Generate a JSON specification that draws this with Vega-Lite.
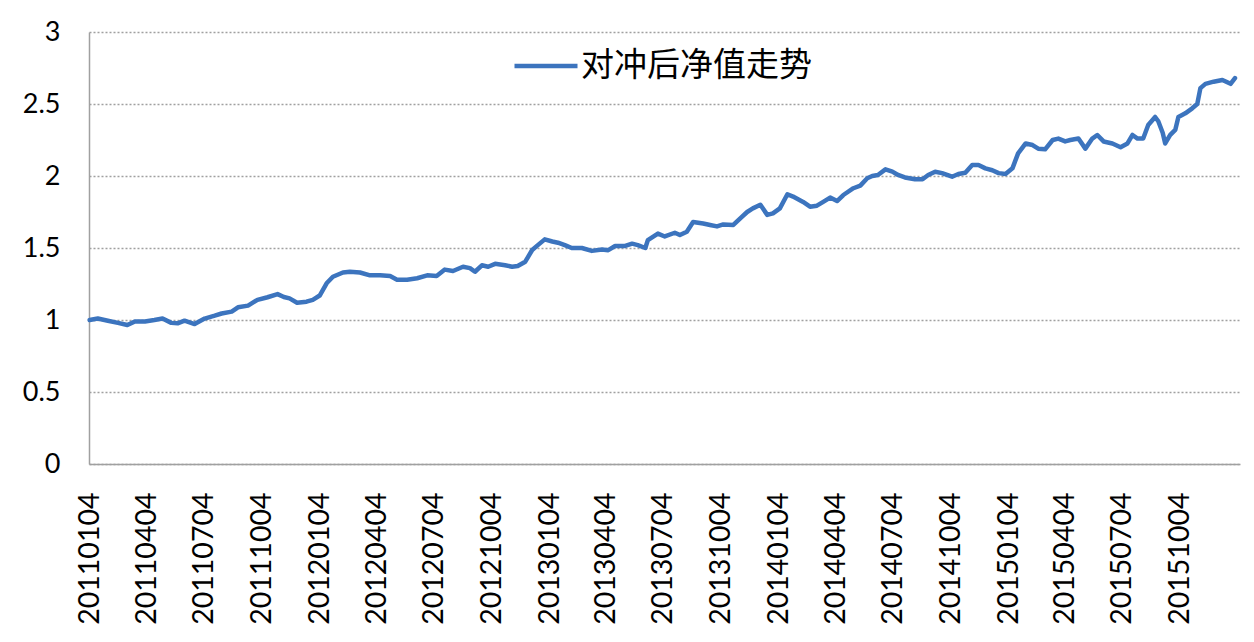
{
  "$schema": "https://vega.github.io/schema/vega-lite/v6.json",
  "autosize": "none",
  "width": 1151,
  "height": 432,
  "padding": {"left": 89, "top": 32, "right": 14, "bottom": 178},
  "background": "white",
  "config": {"view": {"stroke": null}},
  "data": {
    "values": [
      {"d": "2011-01-04", "v": 1.0}, {"d": "2011-01-17", "v": 1.01}, {"d": "2011-02-02", "v": 0.995}, {"d": "2011-02-18", "v": 0.98},
      {"d": "2011-03-05", "v": 0.965}, {"d": "2011-03-17", "v": 0.99}, {"d": "2011-04-02", "v": 0.99}, {"d": "2011-04-17", "v": 1.0},
      {"d": "2011-04-30", "v": 1.01}, {"d": "2011-05-14", "v": 0.98}, {"d": "2011-05-24", "v": 0.977}, {"d": "2011-06-04", "v": 0.995},
      {"d": "2011-06-20", "v": 0.972}, {"d": "2011-07-06", "v": 1.01}, {"d": "2011-07-22", "v": 1.03}, {"d": "2011-08-02", "v": 1.045},
      {"d": "2011-08-18", "v": 1.058}, {"d": "2011-08-28", "v": 1.088}, {"d": "2011-09-13", "v": 1.1}, {"d": "2011-09-28", "v": 1.14},
      {"d": "2011-10-14", "v": 1.158}, {"d": "2011-10-30", "v": 1.18}, {"d": "2011-11-09", "v": 1.16}, {"d": "2011-11-18", "v": 1.15},
      {"d": "2011-11-30", "v": 1.12}, {"d": "2011-12-15", "v": 1.127}, {"d": "2011-12-25", "v": 1.14}, {"d": "2012-01-05", "v": 1.17},
      {"d": "2012-01-16", "v": 1.255}, {"d": "2012-01-26", "v": 1.3}, {"d": "2012-02-11", "v": 1.33}, {"d": "2012-02-22", "v": 1.335},
      {"d": "2012-03-09", "v": 1.33}, {"d": "2012-03-25", "v": 1.31}, {"d": "2012-04-10", "v": 1.31}, {"d": "2012-04-26", "v": 1.305},
      {"d": "2012-05-07", "v": 1.28}, {"d": "2012-05-23", "v": 1.28}, {"d": "2012-06-08", "v": 1.29}, {"d": "2012-06-24", "v": 1.31},
      {"d": "2012-07-09", "v": 1.305}, {"d": "2012-07-22", "v": 1.35}, {"d": "2012-08-04", "v": 1.34}, {"d": "2012-08-20", "v": 1.37},
      {"d": "2012-08-31", "v": 1.36}, {"d": "2012-09-08", "v": 1.335}, {"d": "2012-09-19", "v": 1.38}, {"d": "2012-09-29", "v": 1.37},
      {"d": "2012-10-10", "v": 1.39}, {"d": "2012-10-26", "v": 1.38}, {"d": "2012-11-06", "v": 1.37}, {"d": "2012-11-15", "v": 1.375},
      {"d": "2012-11-27", "v": 1.405}, {"d": "2012-12-08", "v": 1.486}, {"d": "2012-12-17", "v": 1.52}, {"d": "2012-12-28", "v": 1.56},
      {"d": "2013-01-09", "v": 1.545}, {"d": "2013-01-18", "v": 1.537}, {"d": "2013-01-29", "v": 1.52}, {"d": "2013-02-09", "v": 1.5},
      {"d": "2013-02-25", "v": 1.5}, {"d": "2013-03-13", "v": 1.48}, {"d": "2013-03-29", "v": 1.49}, {"d": "2013-04-08", "v": 1.485},
      {"d": "2013-04-19", "v": 1.514}, {"d": "2013-05-05", "v": 1.514}, {"d": "2013-05-16", "v": 1.53}, {"d": "2013-05-25", "v": 1.52},
      {"d": "2013-06-06", "v": 1.5}, {"d": "2013-06-10", "v": 1.555}, {"d": "2013-06-26", "v": 1.6}, {"d": "2013-07-07", "v": 1.58},
      {"d": "2013-07-23", "v": 1.606}, {"d": "2013-07-31", "v": 1.59}, {"d": "2013-08-11", "v": 1.613}, {"d": "2013-08-21", "v": 1.68},
      {"d": "2013-09-06", "v": 1.67}, {"d": "2013-09-17", "v": 1.66}, {"d": "2013-09-28", "v": 1.65}, {"d": "2013-10-08", "v": 1.664},
      {"d": "2013-10-24", "v": 1.66}, {"d": "2013-11-04", "v": 1.706}, {"d": "2013-11-15", "v": 1.75}, {"d": "2013-11-24", "v": 1.775},
      {"d": "2013-12-06", "v": 1.8}, {"d": "2013-12-17", "v": 1.73}, {"d": "2013-12-26", "v": 1.74}, {"d": "2014-01-06", "v": 1.775},
      {"d": "2014-01-18", "v": 1.873}, {"d": "2014-01-27", "v": 1.857}, {"d": "2014-02-12", "v": 1.82}, {"d": "2014-02-23", "v": 1.787},
      {"d": "2014-03-06", "v": 1.794}, {"d": "2014-03-16", "v": 1.82}, {"d": "2014-03-27", "v": 1.85}, {"d": "2014-04-07", "v": 1.826},
      {"d": "2014-04-17", "v": 1.868}, {"d": "2014-05-03", "v": 1.915}, {"d": "2014-05-14", "v": 1.933}, {"d": "2014-05-25", "v": 1.984},
      {"d": "2014-06-02", "v": 2.0}, {"d": "2014-06-11", "v": 2.007}, {"d": "2014-06-23", "v": 2.046}, {"d": "2014-07-04", "v": 2.03},
      {"d": "2014-07-13", "v": 2.007}, {"d": "2014-07-24", "v": 1.99}, {"d": "2014-08-09", "v": 1.977}, {"d": "2014-08-21", "v": 1.977},
      {"d": "2014-08-30", "v": 2.007}, {"d": "2014-09-10", "v": 2.03}, {"d": "2014-09-21", "v": 2.02}, {"d": "2014-10-07", "v": 1.995},
      {"d": "2014-10-17", "v": 2.014}, {"d": "2014-10-28", "v": 2.023}, {"d": "2014-11-08", "v": 2.076}, {"d": "2014-11-18", "v": 2.076},
      {"d": "2014-11-29", "v": 2.053}, {"d": "2014-12-10", "v": 2.04}, {"d": "2014-12-20", "v": 2.02}, {"d": "2014-12-31", "v": 2.014},
      {"d": "2015-01-11", "v": 2.053}, {"d": "2015-01-20", "v": 2.157}, {"d": "2015-02-01", "v": 2.226}, {"d": "2015-02-12", "v": 2.215},
      {"d": "2015-02-21", "v": 2.19}, {"d": "2015-03-04", "v": 2.185}, {"d": "2015-03-16", "v": 2.25}, {"d": "2015-03-25", "v": 2.26},
      {"d": "2015-04-05", "v": 2.24}, {"d": "2015-04-13", "v": 2.25}, {"d": "2015-04-26", "v": 2.26}, {"d": "2015-05-07", "v": 2.19},
      {"d": "2015-05-18", "v": 2.26}, {"d": "2015-05-26", "v": 2.285}, {"d": "2015-06-05", "v": 2.24}, {"d": "2015-06-19", "v": 2.226},
      {"d": "2015-07-02", "v": 2.2}, {"d": "2015-07-13", "v": 2.226}, {"d": "2015-07-21", "v": 2.285}, {"d": "2015-07-29", "v": 2.26},
      {"d": "2015-08-07", "v": 2.26}, {"d": "2015-08-15", "v": 2.354}, {"d": "2015-08-26", "v": 2.41}, {"d": "2015-08-31", "v": 2.38},
      {"d": "2015-09-07", "v": 2.3}, {"d": "2015-09-11", "v": 2.226}, {"d": "2015-09-19", "v": 2.285}, {"d": "2015-09-27", "v": 2.32},
      {"d": "2015-10-02", "v": 2.41}, {"d": "2015-10-13", "v": 2.435}, {"d": "2015-10-24", "v": 2.47}, {"d": "2015-11-01", "v": 2.5},
      {"d": "2015-11-06", "v": 2.61}, {"d": "2015-11-14", "v": 2.64}, {"d": "2015-11-27", "v": 2.655}, {"d": "2015-12-11", "v": 2.667},
      {"d": "2015-12-24", "v": 2.64}, {"d": "2015-12-31", "v": 2.68}
    ]
  },
  "mark": {"type": "line", "strokeWidth": 4.5, "strokeJoin": "round", "strokeCap": "round"},
  "encoding": {
    "x": {
      "field": "d",
      "type": "temporal",
      "scale": {
        "type": "utc",
        "domain": [{"year": 2011, "month": 1, "date": 3, "utc": true}, {"year": 2016, "month": 1, "date": 8, "utc": true}]
      },
      "axis": {
        "title": null,
        "labelExpr": "utcFormat(datum.value, '%Y%m%d')",
        "values": [
          {"year": 2011, "month": 1, "date": 4, "utc": true}, {"year": 2011, "month": 4, "date": 4, "utc": true},
          {"year": 2011, "month": 7, "date": 4, "utc": true}, {"year": 2011, "month": 10, "date": 4, "utc": true},
          {"year": 2012, "month": 1, "date": 4, "utc": true}, {"year": 2012, "month": 4, "date": 4, "utc": true},
          {"year": 2012, "month": 7, "date": 4, "utc": true}, {"year": 2012, "month": 10, "date": 4, "utc": true},
          {"year": 2013, "month": 1, "date": 4, "utc": true}, {"year": 2013, "month": 4, "date": 4, "utc": true},
          {"year": 2013, "month": 7, "date": 4, "utc": true}, {"year": 2013, "month": 10, "date": 4, "utc": true},
          {"year": 2014, "month": 1, "date": 4, "utc": true}, {"year": 2014, "month": 4, "date": 4, "utc": true},
          {"year": 2014, "month": 7, "date": 4, "utc": true}, {"year": 2014, "month": 10, "date": 4, "utc": true},
          {"year": 2015, "month": 1, "date": 4, "utc": true}, {"year": 2015, "month": 4, "date": 4, "utc": true},
          {"year": 2015, "month": 7, "date": 4, "utc": true}, {"year": 2015, "month": 10, "date": 4, "utc": true}
        ],
        "labelAngle": -90,
        "labelFont": "Lato",
        "labelFontSize": 28.5,
        "labelColor": "#000000",
        "labelPadding": 28,
        "labelOverlap": false,
        "labelFlush": false,
        "ticks": false,
        "tickSize": 0,
        "grid": false,
        "domainColor": "#a0a0a0",
        "domainWidth": 1.5
      }
    },
    "y": {
      "field": "v",
      "type": "quantitative",
      "scale": {"domain": [0, 3], "nice": false, "zero": true},
      "axis": {
        "title": null,
        "values": [0, 0.5, 1, 1.5, 2, 2.5, 3],
        "format": "~g",
        "labelFont": "Lato",
        "labelFontSize": 27,
        "labelColor": "#000000",
        "labelPadding": 29,
        "ticks": false,
        "tickSize": 0,
        "grid": true,
        "gridColor": "#a0a0a0",
        "gridDash": [2, 2],
        "gridWidth": 1.3,
        "domainColor": "#a0a0a0",
        "domainWidth": 1.5
      }
    },
    "color": {
      "datum": "对冲后净值走势",
      "type": "nominal",
      "scale": {"range": ["#3C74BE"]},
      "legend": {
        "title": null,
        "orient": "none",
        "legendX": 423,
        "legendY": 0,
        "padding": 0,
        "symbolType": "stroke",
        "symbolSize": 3969,
        "symbolStrokeWidth": 4.5,
        "labelFont": "Noto Sans CJK SC",
        "labelFontSize": 33,
        "labelColor": "#000000",
        "labelOffset": 1,
        "labelLimit": 400
      }
    }
  }
}
